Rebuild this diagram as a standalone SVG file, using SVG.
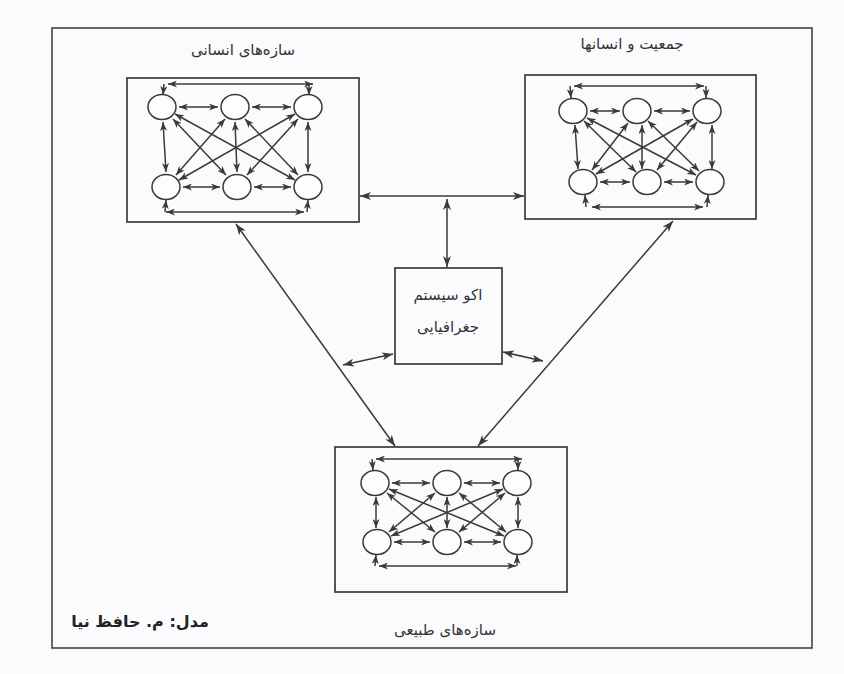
<svg xmlns="http://www.w3.org/2000/svg" width="844" height="674" viewBox="0 0 844 674">
  <style>
    .frame { fill: none; stroke: #444; stroke-width: 1.6; }
    .box { fill: none; stroke: #3a3a3a; stroke-width: 1.7; }
    .node { fill: #fdfdfe; stroke: #3a3a3a; stroke-width: 1.5; }
    .link { fill: none; stroke: #3a3a3a; stroke-width: 1.5; marker-start: url(#ah); marker-end: url(#ah); }
    .stub { fill: none; stroke: #3a3a3a; stroke-width: 1.5; marker-end: url(#ah); }
    .main { fill: none; stroke: #3a3a3a; stroke-width: 1.5; marker-start: url(#ahL); marker-end: url(#ahL); }
    .lbl { font-family: "DejaVu Sans", "Noto Sans", sans-serif; font-size: 15px; fill: #333; text-anchor: middle; direction: rtl; }
    .credit { font-family: "DejaVu Sans", "Noto Sans", sans-serif; font-size: 16px; font-weight: bold; fill: #222; text-anchor: middle; direction: rtl; }
  </style>
  <defs>
    <marker id="ah" markerUnits="userSpaceOnUse" markerWidth="9" markerHeight="7" refX="9" refY="3.5" orient="auto-start-reverse">
      <path d="M0,0 L9,3.5 L0,7 L2.5,3.5 z" fill="#3a3a3a"/>
    </marker>
    <marker id="ahL" markerUnits="userSpaceOnUse" markerWidth="11" markerHeight="8" refX="11" refY="4" orient="auto-start-reverse">
      <path d="M0,0 L11,4 L0,8 L3,4 z" fill="#3a3a3a"/>
    </marker>
  </defs>

  <rect width="844" height="674" fill="#fbfbfd"/>
  <rect id="frame" class="frame" x="52" y="28" width="760" height="620"/>

  <!-- Human structures -->
  <g id="human-structures">
    <rect class="box" x="127" y="78" width="232" height="144"/>
    <text class="lbl" x="243" y="55">سازه‌های انسانی</text>
    <g class="links">
      <line class="link" x1="179" y1="107" x2="218" y2="107"/>
      <line class="link" x1="252" y1="107" x2="291" y2="107"/>
      <line class="link" x1="183" y1="187" x2="220" y2="187"/>
      <line class="link" x1="254" y1="187" x2="291" y2="187"/>
      <line class="link" x1="163" y1="122" x2="166" y2="172"/>
      <line class="link" x1="235" y1="122" x2="237" y2="172"/>
      <line class="link" x1="308" y1="122" x2="308" y2="172"/>
      <line class="link" x1="173" y1="119" x2="226" y2="175"/>
      <line class="link" x1="175" y1="114" x2="295" y2="180"/>
      <line class="link" x1="225" y1="119" x2="176" y2="175"/>
      <line class="link" x1="245" y1="119" x2="298" y2="175"/>
      <line class="link" x1="295" y1="114" x2="179" y2="180"/>
      <line class="link" x1="298" y1="119" x2="247" y2="175"/>
      <line class="link" x1="168" y1="84" x2="313" y2="84"/>
      <line class="stub" x1="164" y1="84" x2="163" y2="95"/>
      <line class="stub" x1="309" y1="84" x2="309" y2="95"/>
      <line class="link" x1="166" y1="212" x2="304" y2="212"/>
      <line class="stub" x1="165" y1="212" x2="166" y2="200"/>
      <line class="stub" x1="307" y1="212" x2="308" y2="200"/>
    </g>
    <ellipse class="node" cx="162" cy="107" rx="14" ry="12.5"/>
    <ellipse class="node" cx="235" cy="107" rx="14" ry="12.5"/>
    <ellipse class="node" cx="308" cy="107" rx="14" ry="12.5"/>
    <ellipse class="node" cx="166" cy="187" rx="14" ry="12.5"/>
    <ellipse class="node" cx="237" cy="187" rx="14" ry="12.5"/>
    <ellipse class="node" cx="308" cy="187" rx="14" ry="12.5"/>
  </g>

  <!-- Population and people -->
  <g id="population">
    <rect class="box" x="525" y="75" width="231" height="144"/>
    <text class="lbl" x="632" y="49">جمعیت و انسانها</text>
    <g class="links">
      <line class="link" x1="590" y1="111" x2="620" y2="111"/>
      <line class="link" x1="654" y1="111" x2="690" y2="111"/>
      <line class="link" x1="600" y1="182" x2="630" y2="182"/>
      <line class="link" x1="664" y1="182" x2="693" y2="182"/>
      <line class="link" x1="575" y1="125" x2="578" y2="169"/>
      <line class="link" x1="642" y1="125" x2="642" y2="169"/>
      <line class="link" x1="712" y1="125" x2="712" y2="169"/>
      <line class="link" x1="584" y1="121" x2="636" y2="172"/>
      <line class="link" x1="587" y1="118" x2="696" y2="175"/>
      <line class="link" x1="628" y1="123" x2="592" y2="170"/>
      <line class="link" x1="648" y1="121" x2="699" y2="171"/>
      <line class="link" x1="693" y1="119" x2="596" y2="174"/>
      <line class="link" x1="697" y1="122" x2="657" y2="170"/>
      <line class="link" x1="574" y1="86" x2="704" y2="86"/>
      <line class="stub" x1="570" y1="86" x2="571" y2="98"/>
      <line class="stub" x1="706" y1="86" x2="706" y2="98"/>
      <line class="link" x1="592" y1="207" x2="703" y2="207"/>
      <line class="stub" x1="586" y1="207" x2="585" y2="195"/>
      <line class="stub" x1="707" y1="207" x2="708" y2="195"/>
    </g>
    <ellipse class="node" cx="573" cy="111" rx="14" ry="12.5"/>
    <ellipse class="node" cx="637" cy="111" rx="14" ry="12.5"/>
    <ellipse class="node" cx="707" cy="111" rx="14" ry="12.5"/>
    <ellipse class="node" cx="583" cy="182" rx="14" ry="12.5"/>
    <ellipse class="node" cx="647" cy="182" rx="14" ry="12.5"/>
    <ellipse class="node" cx="710" cy="182" rx="14" ry="12.5"/>
  </g>

  <!-- Geographic ecosystem -->
  <g id="ecosystem">
    <rect class="box" x="395" y="268" width="107" height="96"/>
    <text class="lbl" x="448" y="300">اکو سیستم</text>
    <text class="lbl" x="448" y="332">جغرافیایی</text>
  </g>

  <!-- Natural structures -->
  <g id="natural-structures">
    <rect class="box" x="335" y="447" width="232" height="145"/>
    <text class="lbl" x="445" y="635">سازه‌های طبیعی</text>
    <g class="links">
      <line class="link" x1="392" y1="483" x2="430" y2="483"/>
      <line class="link" x1="464" y1="483" x2="500" y2="483"/>
      <line class="link" x1="394" y1="542" x2="430" y2="542"/>
      <line class="link" x1="464" y1="542" x2="501" y2="542"/>
      <line class="link" x1="376" y1="497" x2="376" y2="528"/>
      <line class="link" x1="447" y1="497" x2="447" y2="528"/>
      <line class="link" x1="518" y1="497" x2="518" y2="528"/>
      <line class="link" x1="387" y1="493" x2="435" y2="532"/>
      <line class="link" x1="389" y1="489" x2="504" y2="536"/>
      <line class="link" x1="435" y1="493" x2="389" y2="532"/>
      <line class="link" x1="459" y1="493" x2="506" y2="532"/>
      <line class="link" x1="503" y1="489" x2="391" y2="536"/>
      <line class="link" x1="505" y1="493" x2="459" y2="532"/>
      <line class="link" x1="376" y1="459" x2="522" y2="459"/>
      <line class="stub" x1="372" y1="459" x2="373" y2="470"/>
      <line class="stub" x1="518" y1="459" x2="518" y2="470"/>
      <line class="link" x1="379" y1="566" x2="516" y2="566"/>
      <line class="stub" x1="375" y1="566" x2="376" y2="555"/>
      <line class="stub" x1="517" y1="566" x2="517" y2="555"/>
    </g>
    <ellipse class="node" cx="375" cy="483" rx="14" ry="12.5"/>
    <ellipse class="node" cx="447" cy="483" rx="14" ry="12.5"/>
    <ellipse class="node" cx="517" cy="483" rx="14" ry="12.5"/>
    <ellipse class="node" cx="377" cy="542" rx="14" ry="12.5"/>
    <ellipse class="node" cx="447" cy="542" rx="14" ry="12.5"/>
    <ellipse class="node" cx="518" cy="542" rx="14" ry="12.5"/>
  </g>

  <!-- Links between the subsystems -->
  <g id="connectors">
    <line class="main" x1="360" y1="196" x2="524" y2="196"/>
    <line class="main" x1="447" y1="199" x2="447" y2="267"/>
    <line class="main" x1="236" y1="224" x2="395" y2="446"/>
    <line class="main" x1="673" y1="221" x2="478" y2="446"/>
    <line class="main" x1="343" y1="365" x2="393" y2="354"/>
    <line class="main" x1="503" y1="352" x2="543" y2="361"/>
  </g>

  <text id="credit" class="credit" x="140" y="627">مدل: م. حافظ نیا</text>
</svg>
